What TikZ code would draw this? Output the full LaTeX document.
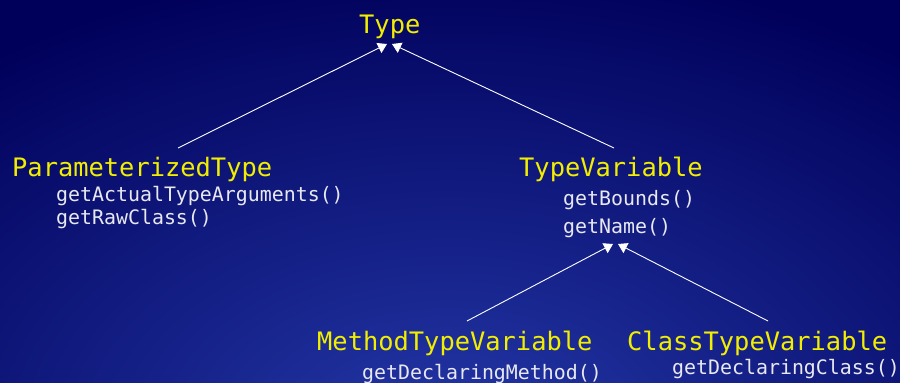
\documentclass[tikz,border=0pt]{standalone}
\usepackage{fontspec}
\setmonofont{DejaVu Sans Mono}
\usetikzlibrary{arrows.meta}
\definecolor{slidenavy}{RGB}{0,0,90}
\definecolor{slideblue}{RGB}{36,56,168}
\definecolor{classyellow}{RGB}{242,238,0}
\definecolor{methodwhite}{RGB}{232,232,240}
\tikzset{
  classname/.style={anchor=base west,inner sep=0pt,text=classyellow,font=\ttfamily\fontsize{25.4}{28}\selectfont},
  methodname/.style={anchor=base west,inner sep=0pt,text=methodwhite,font=\ttfamily\fontsize{19.9}{22}\selectfont},
  inherit/.style={draw=white,line width=0.9pt,-{Triangle[length=9pt,width=11pt,fill=white]}}
}
\begin{document}
\begin{tikzpicture}[x=1pt,y=1pt,yscale=-1,xscale=1]
			%Background: slide gradient
			\fill [slidenavy] (0,0) rectangle (900,383);
			\begin{scope}
			\clip (0,0) rectangle (900,383);
			\shade [inner color=slideblue,outer color=slidenavy] (450,440) ellipse [x radius=760,y radius=480];
			\end{scope}
			\useasboundingbox (0,0) rectangle (900,383);

			% Text Node
			\draw (359,33) node [classname] (type) {Type};
			% Text Node
			\draw (12,176) node [classname] (ptype) {ParameterizedType};
			% Text Node
			\draw (56,201.5) node [methodname] (actargs) {getActualTypeArguments()};
			% Text Node
			\draw (56,224) node [methodname] (rawclass) {getRawClass()};
			% Text Node
			\draw (519,176.5) node [classname] (tvar) {TypeVariable};
			% Text Node
			\draw (563,205) node [methodname] (bounds) {getBounds()};
			% Text Node
			\draw (563,233) node [methodname] (getname) {getName()};
			% Text Node
			\draw (317,350) node [classname] (mtvar) {MethodTypeVariable};
			% Text Node
			\draw (362,379.5) node [methodname] (declmethod) {getDeclaringMethod()};
			% Text Node
			\draw (627,350) node [classname] (ctvar) {ClassTypeVariable};
			% Text Node
			\draw (672,374.5) node [methodname] (declclass) {getDeclaringClass()};

			%Line ends and arrow tips
			\coordinate (ptypetop) at (178,148);
			\coordinate (tvartop) at (614,148);
			\coordinate (typeL) at (387,44);
			\coordinate (typeR) at (392,44);
			\coordinate (mtvartop) at (467,321);
			\coordinate (ctvartop) at (768,321);
			\coordinate (nameL) at (613,244);
			\coordinate (nameR) at (618,244);

			%Inheritance arrows
			\draw [inherit] (ptypetop) -- (typeL);
			\draw [inherit] (tvartop) -- (typeR);
			\draw [inherit] (mtvartop) -- (nameL);
			\draw [inherit] (ctvartop) -- (nameR);
\end{tikzpicture}
\end{document}
